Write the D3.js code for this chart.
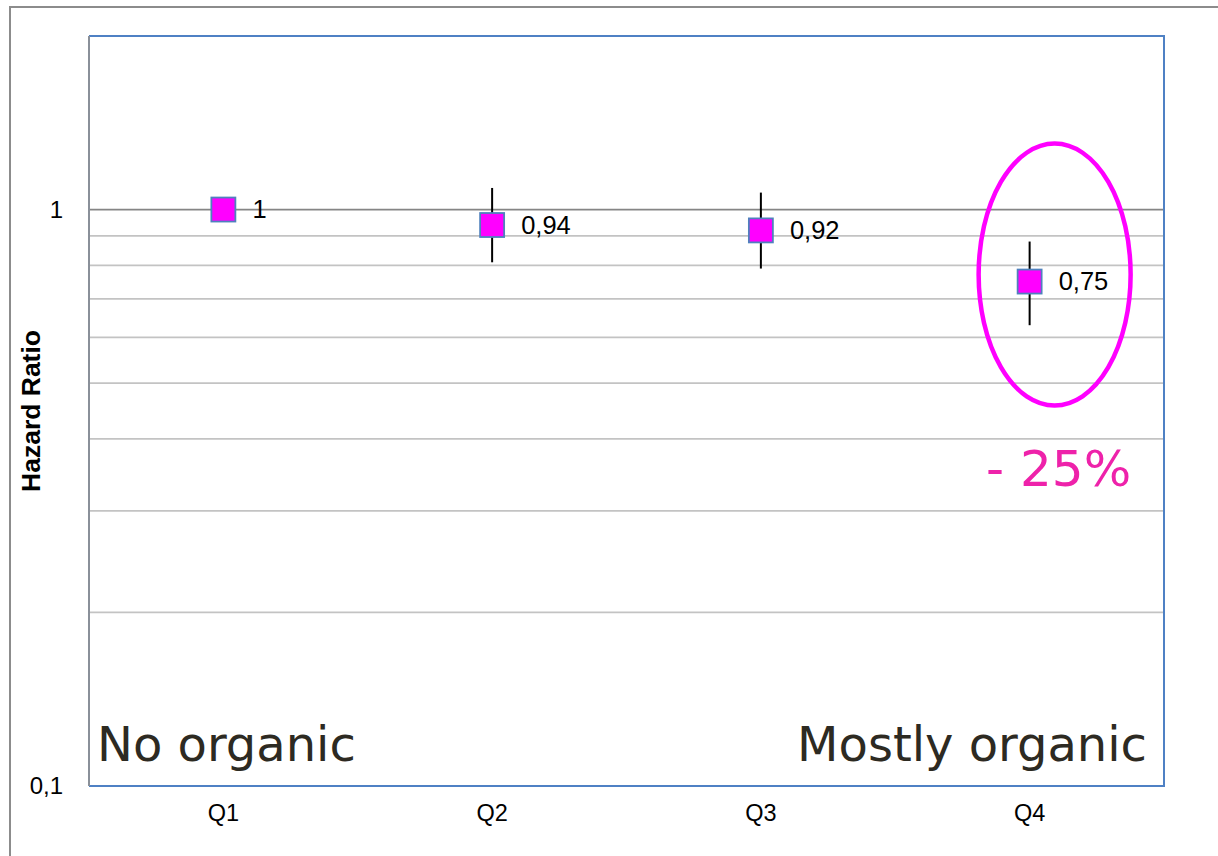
<!DOCTYPE html>
<html>
<head>
<meta charset="utf-8">
<script src="https://cdn.jsdelivr.net/npm/d3@7"></script>
<style>
  html, body { margin: 0; padding: 0; background: #fff; }
  svg { display: block; }
</style>
</head>
<body>
<svg id="chart" width="1218" height="856"></svg>
<script>
// Hazard ratios by quartile of organic food consumption
const categories = ["Q1", "Q2", "Q3", "Q4"];
const hazardRatio = [1, 0.94, 0.92, 0.75];
const ciUpper = [null, 1.09, 1.07, 0.88];
const ciLower = [null, 0.81, 0.79, 0.63];
const valueLabels = ["1", "0,94", "0,92", "0,75"];
const yTickValues = [0.1, 1];
const yTickLabels = ["0,1", "1"];
const gridValues = [0.2, 0.3, 0.4, 0.5, 0.6, 0.7, 0.8, 0.9];

const svg = d3.select("#chart");
const W = 1218, H = 856;
const plot = { left: 89, right: 1164, top: 36, bottom: 786 };

const x = d3.scaleBand().domain(categories).range([plot.left, plot.right]);
const y = d3.scaleLog().domain([0.1, 2]).range([plot.bottom, plot.top]);
const cx = c => x(c) + x.bandwidth() / 2;

// outer frame
svg.append("rect")
  .attr("x", 10).attr("y", 7).attr("width", W + 20).attr("height", H + 20)
  .attr("fill", "#fff").attr("stroke", "#8c8c8c").attr("stroke-width", 2);

// minor grid lines
svg.append("g").selectAll("line").data(gridValues).join("line")
  .attr("x1", plot.left).attr("x2", plot.right)
  .attr("y1", d => y(d)).attr("y2", d => y(d))
  .attr("stroke", "#c3c3c3").attr("stroke-width", 1.8);

// reference line at HR = 1
svg.append("line")
  .attr("x1", plot.left).attr("x2", plot.right)
  .attr("y1", y(1)).attr("y2", y(1))
  .attr("stroke", "#858585").attr("stroke-width", 1.8);

// plot frame: blue top/right/bottom, grey value axis on the left
svg.append("path")
  .attr("d", `M${plot.left},${plot.top}H${plot.right}V${plot.bottom}H${plot.left}`)
  .attr("fill", "none").attr("stroke", "#4f81c4").attr("stroke-width", 2);
svg.append("line")
  .attr("x1", plot.left).attr("x2", plot.left)
  .attr("y1", plot.top).attr("y2", plot.bottom)
  .attr("stroke", "#8a9099").attr("stroke-width", 2);

// y axis tick labels
const yAxis = d3.axisLeft(y).tickValues(yTickValues)
  .tickFormat((d, i) => yTickLabels[i]).tickSize(0).tickPadding(26);
svg.append("g").attr("transform", `translate(${plot.left},0)`).call(yAxis)
  .call(g => g.select(".domain").remove())
  .call(g => g.selectAll("text")
    .attr("font-family", "'Liberation Sans', Arial, sans-serif")
    .attr("font-size", 24).attr("fill", "#000"));

// x axis category labels
const xAxis = d3.axisBottom(x).tickSize(0).tickPadding(18);
svg.append("g").attr("transform", `translate(0,${plot.bottom})`).call(xAxis)
  .call(g => g.select(".domain").remove())
  .call(g => g.selectAll("text")
    .attr("font-family", "'Liberation Sans', Arial, sans-serif")
    .attr("font-size", 23.5).attr("fill", "#000"));

// axis title
svg.append("text")
  .attr("transform", `translate(40,${(y(1) + y(0.2)) / 2}) rotate(-90)`)
  .attr("text-anchor", "middle")
  .attr("font-family", "'Liberation Sans', Arial, sans-serif")
  .attr("font-weight", "bold").attr("font-size", 26.5)
  .text("Hazard Ratio");

const pts = categories.map((c, i) => ({
  c, v: hazardRatio[i], hi: ciUpper[i], lo: ciLower[i], label: valueLabels[i]
}));

// confidence interval whiskers
svg.append("g").selectAll("line").data(pts.filter(d => d.hi != null)).join("line")
  .attr("x1", d => cx(d.c)).attr("x2", d => cx(d.c))
  .attr("y1", d => y(d.hi)).attr("y2", d => y(d.lo))
  .attr("stroke", "#000").attr("stroke-width", 2);

// point markers
const ms = 24;
svg.append("g").selectAll("rect").data(pts).join("rect")
  .attr("x", d => cx(d.c) - ms / 2).attr("y", d => y(d.v) - ms / 2)
  .attr("width", ms).attr("height", ms)
  .attr("fill", "#ff00ff").attr("stroke", "#4f81bd").attr("stroke-width", 1.8);

// value labels
svg.append("g").selectAll("text").data(pts).join("text")
  .attr("x", d => cx(d.c) + 29).attr("y", d => y(d.v))
  .attr("dy", "0.35em")
  .attr("font-family", "'Liberation Sans', Arial, sans-serif")
  .attr("font-size", 25.5).attr("fill", "#000")
  .text(d => d.label);

// highlight around the top quartile
const q4 = pts[3];
svg.append("ellipse")
  .attr("cx", cx(q4.c) + 25).attr("cy", y(q4.v) - 7)
  .attr("rx", 76).attr("ry", 131)
  .attr("fill", "none").attr("stroke", "#ff00ff").attr("stroke-width", 4.5);

svg.append("text")
  .attr("x", cx(q4.c) + 29).attr("y", 486)
  .attr("text-anchor", "middle")
  .attr("font-family", "'DejaVu Sans', Verdana, sans-serif")
  .attr("font-size", 50).attr("fill", "#ee22aa")
  .text("- 25%");

// range annotations
const annoFont = "'DejaVu Sans', Verdana, sans-serif";
svg.append("text")
  .attr("x", 97).attr("y", 761)
  .attr("font-family", annoFont).attr("font-size", 48).attr("fill", "#2d2a22")
  .text("No organic");
svg.append("text")
  .attr("x", 1147).attr("y", 761).attr("text-anchor", "end")
  .attr("font-family", annoFont).attr("font-size", 48).attr("fill", "#2d2a22")
  .text("Mostly organic");
</script>
</body>
</html>
